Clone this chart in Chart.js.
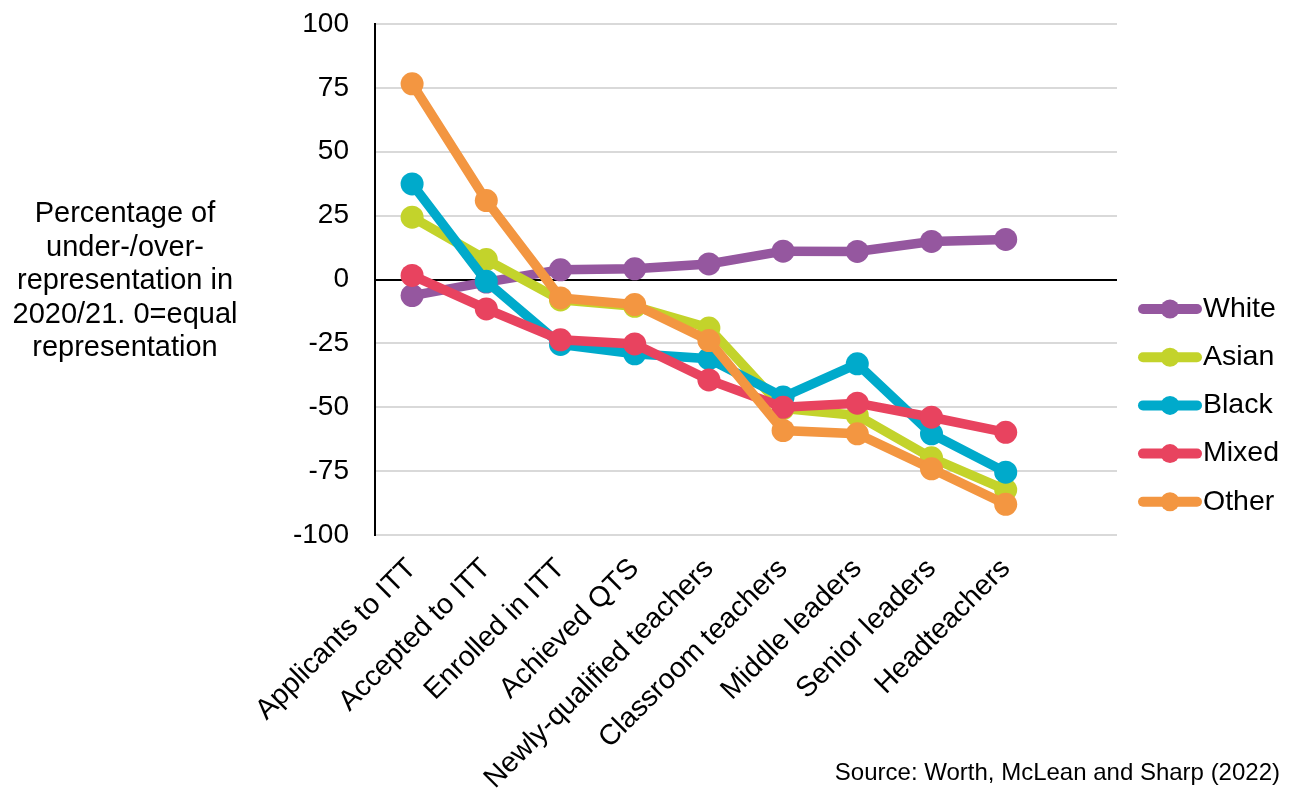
<!DOCTYPE html>
<html>
<head>
<meta charset="utf-8">
<script src="https://cdn.jsdelivr.net/npm/chart.js@4/dist/chart.umd.min.js"></script>
<style>
  body { margin: 0; background: #fff; }
  #wrap { width: 1296px; height: 796px; }
</style>
</head>
<body>
<div id="wrap"><canvas id="chart" width="1296" height="796"></canvas></div>
<script>
const categories = [
  "Applicants to ITT", "Accepted to ITT", "Enrolled in ITT", "Achieved QTS",
  "Newly-qualified teachers", "Classroom teachers", "Middle leaders",
  "Senior leaders", "Headteachers"
];
const white = [-6.3, -1, 3.8, 4.2, 6.1, 11.1, 11, 14.9, 15.7];
const asian = [24.4, 7.8, -8, -10.5, -19, -50.5, -53.2, -69.8, -82.3];
const black = [37.4, -0.7, -25.4, -29.1, -31, -46, -33, -60.4, -75.4];
const mixed = [1.6, -11.5, -23.6, -25.2, -39.3, -50, -48.4, -53.9, -59.8];
const other = [76.6, 30.9, -7.2, -9.8, -23.9, -59.1, -60.4, -74.1, -88];
const yTicks = [100, 75, 50, 25, 0, -25, -50, -75, -100];

const seriesNames = ["White", "Asian", "Black", "Mixed", "Other"];
const seriesValues = [white, asian, black, mixed, other];
const colors = ["#95579f", "#c3d32b", "#00aacb", "#e8435f", "#f39641"];

const titleLines = ["Percentage of", "under-/over-", "representation in", "2020/21. 0=equal", "representation"];
const sourceText = "Source: Worth, McLean and Sharp (2022)";
const FONT = "Arial, 'Liberation Sans', sans-serif";

const datasets = seriesNames.map((name, i) => ({
  label: name,
  data: seriesValues[i].map((v, j) => ({ x: j, y: v })),
  borderColor: colors[i],
  backgroundColor: colors[i],
  pointBackgroundColor: colors[i],
  pointBorderWidth: 0,
  pointRadius: 11.5,
  borderWidth: 9.5,
  tension: 0,
  order: seriesNames.length - i
}));

const extras = {
  id: "extras",
  afterDraw(chart) {
    const ctx = chart.ctx;
    ctx.save();
    ctx.fillStyle = "#000";
    ctx.textBaseline = "middle";

    // y axis title, horizontal
    ctx.font = "29px " + FONT;
    ctx.textAlign = "center";
    titleLines.forEach((t, i) => ctx.fillText(t, 125, 214 + i * 33.5));

    // legend
    seriesNames.forEach((name, i) => {
      const y = 309 + i * 48.2;
      ctx.strokeStyle = colors[i];
      ctx.lineWidth = 10;
      ctx.lineCap = "round";
      ctx.beginPath();
      ctx.moveTo(1143, y);
      ctx.lineTo(1197, y);
      ctx.stroke();
      ctx.fillStyle = colors[i];
      ctx.beginPath();
      ctx.arc(1170, y, 9.5, 0, Math.PI * 2);
      ctx.fill();
      ctx.fillStyle = "#000";
      ctx.textAlign = "left";
      ctx.font = "28.5px " + FONT;
      ctx.fillText(name, 1203, y);
    });

    // source
    ctx.font = "24px " + FONT;
    ctx.textAlign = "right";
    ctx.fillText(sourceText, 1280, 773);
    ctx.restore();
  }
};

new Chart(document.getElementById("chart"), {
  type: "line",
  data: { datasets },
  options: {
    responsive: false,
    animation: false,
    layout: { padding: { top: 24, right: 179, left: 0, bottom: 0 } },
    plugins: { legend: { display: false }, tooltip: { enabled: false } },
    scales: {
      x: {
        type: "linear",
        min: -0.5,
        max: 9.5,
        afterBuildTicks(scale) {
          scale.ticks = categories.map((_, i) => ({ value: i }));
        },
        afterFit(scale) { scale.height = 261; },
        grid: { display: false },
        border: { display: false },
        ticks: {
          autoSkip: false,
          minRotation: 45,
          maxRotation: 45,
          padding: 9,
          color: "#000",
          font: { size: 28.5, family: FONT },
          callback: (v) => categories[v] ?? ""
        }
      },
      y: {
        min: -100,
        max: 100,
        afterBuildTicks(scale) {
          scale.ticks = yTicks.map(v => ({ value: v }));
        },
        afterFit(scale) {
          scale.width = 375;
          scale.paddingTop = 0;
          scale.paddingBottom = 0;
        },
        grid: {
          drawTicks: false,
          color: (c) => c.tick && c.tick.value === 0 ? "#000" : "#d9d9d9",
          lineWidth: 2
        },
        border: { display: true, color: "#000", width: 2 },
        ticks: {
          padding: 26,
          color: "#000",
          font: { size: 28, family: FONT }
        }
      }
    }
  },
  plugins: [extras]
});
</script>
</body>
</html>
